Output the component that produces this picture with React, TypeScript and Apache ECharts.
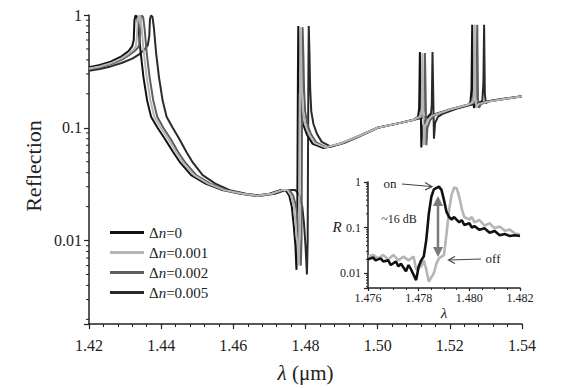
import React, { useEffect, useRef } from 'react';
import * as echarts from 'echarts';

const FONT = '"Liberation Serif", "Times New Roman", serif';
const INK = '#222222';

// ---- legend / series meta ----
const seriesNames = ['Δn=0', 'Δn=0.001', 'Δn=0.002', 'Δn=0.005'];
const seriesColors = ['#111111', '#b5b5b5', '#5e5e5e', '#2a2a2a'];
const seriesZ = [3, 5, 4, 2];

// ---- main chart data: [wavelength (um), reflection] ----
const dn0: number[][] = [
  [1.4200, 0.345], [1.4230, 0.36], [1.4260, 0.385], [1.4290, 0.43], [1.4310, 0.48], [1.4320, 0.53],
  [1.4324, 0.6], [1.4326, 0.9], [1.4329, 0.99], [1.4333, 0.97], [1.4337, 0.78], [1.4343, 0.47],
  [1.4351, 0.28], [1.4361, 0.175], [1.4372, 0.125], [1.4390, 0.1], [1.4410, 0.08], [1.4433, 0.061],
  [1.4453, 0.049], [1.4483, 0.038], [1.4523, 0.032], [1.4570, 0.028], [1.4620, 0.026], [1.4660, 0.025],
  [1.4700, 0.026], [1.4730, 0.028], [1.4745, 0.028], [1.4755, 0.025], [1.4762, 0.02], [1.4767, 0.014],
  [1.4772, 0.009], [1.4775, 0.0055], [1.4777, 0.01], [1.4778, 0.06], [1.4779, 0.3], [1.4780, 0.8],
  [1.4782, 0.45], [1.4784, 0.22], [1.4787, 0.14], [1.4793, 0.108], [1.4804, 0.087], [1.4820, 0.072],
  [1.4850, 0.066], [1.4900, 0.073], [1.4950, 0.085], [1.5000, 0.1], [1.5060, 0.11], [1.5100, 0.118],
  [1.5112, 0.125], [1.5115, 0.15], [1.5117, 0.47], [1.5119, 0.2], [1.5121, 0.067], [1.5124, 0.1],
  [1.5132, 0.118], [1.5145, 0.128], [1.5200, 0.145], [1.5250, 0.16], [1.5257, 0.168], [1.5260, 0.22],
  [1.5262, 0.82], [1.5264, 0.18], [1.5267, 0.15], [1.5272, 0.162], [1.5290, 0.168], [1.5350, 0.18],
  [1.5400, 0.19],
];

const dn1: number[][] = [
  [1.4200, 0.335], [1.4230, 0.35], [1.4260, 0.373], [1.4290, 0.413], [1.4310, 0.455], [1.4325, 0.5],
  [1.4330, 0.53], [1.4333, 0.65], [1.4335, 0.92], [1.4338, 0.99], [1.4342, 0.96], [1.4346, 0.76],
  [1.4352, 0.46], [1.4360, 0.28], [1.4370, 0.175], [1.4381, 0.125], [1.4399, 0.1], [1.4419, 0.08],
  [1.4441, 0.061], [1.4461, 0.049], [1.4491, 0.038], [1.4530, 0.032], [1.4575, 0.028], [1.4625, 0.026],
  [1.4665, 0.025], [1.4705, 0.026], [1.4735, 0.028], [1.4750, 0.028], [1.4760, 0.025], [1.4768, 0.02],
  [1.4773, 0.014], [1.4778, 0.009], [1.4781, 0.006], [1.4783, 0.01], [1.4784, 0.06], [1.4785, 0.3],
  [1.4786, 0.78], [1.4788, 0.45], [1.4790, 0.22], [1.4793, 0.14], [1.4799, 0.108], [1.4810, 0.087],
  [1.4826, 0.073], [1.4855, 0.067], [1.4900, 0.073], [1.4950, 0.085], [1.5000, 0.1], [1.5060, 0.11],
  [1.5100, 0.118], [1.5119, 0.126], [1.5122, 0.15], [1.5124, 0.46], [1.5126, 0.2], [1.5128, 0.07],
  [1.5131, 0.1], [1.5139, 0.118], [1.5150, 0.128], [1.5200, 0.145], [1.5250, 0.16], [1.5264, 0.168],
  [1.5267, 0.22], [1.5269, 0.82], [1.5271, 0.18], [1.5274, 0.15], [1.5279, 0.162], [1.5295, 0.168],
  [1.5350, 0.18], [1.5400, 0.19],
];

const dn2: number[][] = [
  [1.4200, 0.33], [1.4230, 0.343], [1.4260, 0.365], [1.4290, 0.4], [1.4310, 0.438], [1.4325, 0.475],
  [1.4335, 0.51], [1.4339, 0.54], [1.4341, 0.65], [1.4343, 0.92], [1.4346, 0.99], [1.4350, 0.96],
  [1.4354, 0.76], [1.4360, 0.46], [1.4368, 0.28], [1.4378, 0.175], [1.4389, 0.125], [1.4406, 0.1],
  [1.4426, 0.08], [1.4447, 0.061], [1.4467, 0.049], [1.4497, 0.038], [1.4536, 0.032], [1.4580, 0.028],
  [1.4628, 0.026], [1.4668, 0.025], [1.4708, 0.026], [1.4738, 0.028], [1.4756, 0.028], [1.4766, 0.025],
  [1.4774, 0.02], [1.4779, 0.014], [1.4784, 0.009], [1.4787, 0.006], [1.4789, 0.01], [1.4790, 0.06],
  [1.4791, 0.3], [1.4792, 0.78], [1.4794, 0.45], [1.4796, 0.22], [1.4799, 0.14], [1.4805, 0.108],
  [1.4815, 0.088], [1.4830, 0.074], [1.4858, 0.067], [1.4900, 0.072], [1.4950, 0.085], [1.5000, 0.1],
  [1.5060, 0.11], [1.5100, 0.118], [1.5126, 0.126], [1.5129, 0.15], [1.5131, 0.46], [1.5133, 0.2],
  [1.5135, 0.07], [1.5138, 0.1], [1.5146, 0.118], [1.5157, 0.128], [1.5200, 0.145], [1.5250, 0.16],
  [1.5271, 0.168], [1.5274, 0.22], [1.5276, 0.82], [1.5278, 0.18], [1.5281, 0.15], [1.5286, 0.162],
  [1.5302, 0.17], [1.5350, 0.18], [1.5400, 0.19],
];

const dn5: number[][] = [
  [1.4200, 0.32], [1.4230, 0.332], [1.4260, 0.35], [1.4290, 0.375], [1.4320, 0.41], [1.4340, 0.45],
  [1.4355, 0.5], [1.4363, 0.54], [1.4367, 0.65], [1.4369, 0.92], [1.4372, 0.99], [1.4376, 0.96],
  [1.4380, 0.76], [1.4386, 0.46], [1.4394, 0.28], [1.4404, 0.175], [1.4415, 0.125], [1.4432, 0.1],
  [1.4450, 0.08], [1.4470, 0.061], [1.4488, 0.049], [1.4515, 0.038], [1.4550, 0.032], [1.4590, 0.028],
  [1.4635, 0.026], [1.4675, 0.025], [1.4715, 0.026], [1.4745, 0.028], [1.4772, 0.028], [1.4784, 0.025],
  [1.4791, 0.02], [1.4796, 0.014], [1.4800, 0.009], [1.4804, 0.005], [1.4806, 0.01], [1.4807, 0.06],
  [1.4808, 0.3], [1.4809, 0.8], [1.4811, 0.45], [1.4813, 0.22], [1.4816, 0.14], [1.4822, 0.108],
  [1.4832, 0.088], [1.4845, 0.075], [1.4870, 0.068], [1.4910, 0.074], [1.4950, 0.084], [1.5000, 0.1],
  [1.5060, 0.11], [1.5100, 0.118], [1.5140, 0.126], [1.5148, 0.135], [1.5150, 0.16], [1.5152, 0.47],
  [1.5154, 0.2], [1.5156, 0.08], [1.5159, 0.11], [1.5167, 0.125], [1.5180, 0.133], [1.5220, 0.148],
  [1.5270, 0.163], [1.5290, 0.172], [1.5293, 0.25], [1.5295, 0.82], [1.5297, 0.2], [1.5300, 0.165],
  [1.5306, 0.172], [1.5330, 0.177], [1.5370, 0.185], [1.5400, 0.19],
];

// ---- inset data ----
const insetOn: number[][] = [
  [1.4760, 0.020], [1.4762, 0.022], [1.4763, 0.019], [1.4765, 0.021], [1.4766, 0.018], [1.4768, 0.019],
  [1.4769, 0.015], [1.4771, 0.018], [1.4772, 0.014], [1.4773, 0.016], [1.4775, 0.011], [1.4776, 0.015],
  [1.4777, 0.012], [1.4779, 0.007], [1.4780, 0.014], [1.4781, 0.019], [1.4782, 0.023], [1.4783, 0.053],
  [1.4784, 0.2], [1.4785, 0.47], [1.4786, 0.69], [1.4788, 0.79], [1.4789, 0.67], [1.4790, 0.40],
  [1.4791, 0.22], [1.4792, 0.17], [1.4793, 0.15], [1.4794, 0.17], [1.4796, 0.13], [1.4797, 0.145],
  [1.4798, 0.114], [1.4800, 0.124], [1.4801, 0.1], [1.4802, 0.108], [1.4804, 0.089], [1.4806, 0.096],
  [1.4808, 0.077], [1.4810, 0.084], [1.4812, 0.068], [1.4814, 0.072], [1.4816, 0.065], [1.4818, 0.068],
  [1.4820, 0.065],
];

const insetOff: number[][] = [
  [1.4760, 0.023], [1.4762, 0.025], [1.4764, 0.021], [1.4766, 0.025], [1.4768, 0.020], [1.4770, 0.025],
  [1.4772, 0.019], [1.4774, 0.023], [1.4776, 0.019], [1.4778, 0.023], [1.4779, 0.012], [1.4781, 0.014],
  [1.4782, 0.019], [1.4783, 0.012], [1.4784, 0.0065], [1.4786, 0.01], [1.4787, 0.016], [1.4788, 0.021],
  [1.4790, 0.025], [1.4791, 0.074], [1.4792, 0.24], [1.4793, 0.52], [1.4794, 0.76], [1.4795, 0.73],
  [1.4796, 0.48], [1.4797, 0.26], [1.4798, 0.17], [1.4800, 0.15], [1.4801, 0.17], [1.4802, 0.13],
  [1.4804, 0.146], [1.4806, 0.11], [1.4808, 0.124], [1.4810, 0.096], [1.4812, 0.105], [1.4814, 0.085],
  [1.4816, 0.09], [1.4818, 0.074], [1.4820, 0.07],
];

// ---- axis ticks ----
const mainYMinor = [
  0.002, 0.003, 0.004, 0.005, 0.006, 0.007, 0.008, 0.009,
  0.02, 0.03, 0.04, 0.05, 0.06, 0.07, 0.08, 0.09,
  0.2, 0.3, 0.4, 0.5, 0.6, 0.7, 0.8, 0.9,
];
const insetYMinor = [
  0.005, 0.006, 0.007, 0.008, 0.009,
  0.02, 0.03, 0.04, 0.05, 0.06, 0.07, 0.08, 0.09,
  0.2, 0.3, 0.4, 0.5, 0.6, 0.7, 0.8, 0.9,
];

const logLabel = (v: number) => {
  const l = Math.log10(v);
  const r = Math.round(l);
  return Math.abs(l - r) < 1e-6 ? String(Math.pow(10, r)) : '';
};

function minorTickSeries(values: number[], xVal: number, idx: number, len: number) {
  return {
    type: 'custom',
    xAxisIndex: idx,
    yAxisIndex: idx,
    silent: true,
    clip: false,
    z: 10,
    data: values.map((v) => [xVal, v]),
    renderItem: (_p: any, api: any) => {
      const pt = api.coord([api.value(0), api.value(1)]);
      return {
        type: 'line',
        shape: { x1: pt[0] - len, y1: pt[1], x2: pt[0], y2: pt[1] },
        style: { stroke: INK, lineWidth: 1 },
      };
    },
  };
}

export default function App() {
  const ref = useRef<HTMLDivElement>(null);

  useEffect(() => {
    if (!ref.current) return;
    const chart = echarts.init(ref.current, null, { renderer: 'svg' });
    const mainData = [dn0, dn1, dn2, dn5];
    const axisLine = { onZero: false, lineStyle: { color: INK, width: 1.5 } };
    const tickStyle = { color: INK, width: 1.2 };

    const option: any = {
      animation: false,
      backgroundColor: '#ffffff',
      grid: [
        { left: 89, top: 15, width: 433, height: 315 },
        { left: 368, top: 182, width: 152, height: 106 },
      ],
      legend: {
        data: seriesNames,
        orient: 'vertical',
        left: 110,
        top: 225,
        padding: 0,
        icon: 'rect',
        itemWidth: 34,
        itemHeight: 3,
        itemGap: 5,
        textStyle: {
          fontFamily: FONT,
          fontSize: 15,
          color: INK,
          lineHeight: 15,
          rich: { i: { fontStyle: 'italic', fontFamily: FONT, fontSize: 15, color: INK, lineHeight: 15 } },
        },
        formatter: (name: string) => 'Δ{i|n}' + name.slice(2),
      },
      xAxis: [
        {
          type: 'value',
          gridIndex: 0,
          min: 1.42,
          max: 1.54,
          interval: 0.02,
          axisLine,
          axisTick: { length: 5, lineStyle: tickStyle },
          minorTick: { show: true, splitNumber: 5, length: 3, lineStyle: { color: INK, width: 1 } },
          splitLine: { show: false },
          axisLabel: {
            formatter: (v: number) => v.toFixed(2),
            fontFamily: FONT,
            fontSize: 16,
            color: INK,
            margin: 13,
          },
          name: '{i|λ} (μm)',
          nameLocation: 'middle',
          nameGap: 38,
          nameTextStyle: {
            fontFamily: FONT,
            fontSize: 21,
            color: INK,
            rich: { i: { fontStyle: 'italic', fontFamily: FONT, fontSize: 21, color: INK } },
          },
        },
        {
          type: 'value',
          gridIndex: 1,
          min: 1.476,
          max: 1.482,
          interval: 0.002,
          axisLine,
          axisTick: { length: 3, lineStyle: tickStyle },
          minorTick: { show: true, splitNumber: 4, length: 2, lineStyle: { color: INK, width: 1 } },
          splitLine: { show: false },
          axisLabel: {
            formatter: (v: number) => v.toFixed(3),
            fontFamily: FONT,
            fontSize: 12,
            color: INK,
            margin: 4,
          },
          name: 'λ',
          nameLocation: 'middle',
          nameGap: 17,
          nameTextStyle: { fontFamily: FONT, fontSize: 15, fontStyle: 'italic', color: INK },
        },
      ],
      yAxis: [
        {
          type: 'log',
          logBase: 10,
          gridIndex: 0,
          min: 0.00182,
          max: 1,
          axisLine,
          axisTick: { length: 5, lineStyle: tickStyle },
          splitLine: { show: false },
          axisLabel: { formatter: logLabel, fontFamily: FONT, fontSize: 16, color: INK, margin: 7 },
        },
        {
          type: 'log',
          logBase: 10,
          gridIndex: 1,
          min: 0.0047,
          max: 1,
          axisLine,
          axisTick: { length: 4, lineStyle: tickStyle },
          splitLine: { show: false },
          axisLabel: { formatter: logLabel, fontFamily: FONT, fontSize: 12, color: INK, margin: 7 },
        },
      ],
      graphic: [
        {
          type: 'text',
          x: 33,
          y: 166,
          rotation: Math.PI / 2,
          style: { text: 'Reflection', font: `22px ${FONT}`, fill: INK, align: 'center', verticalAlign: 'middle' },
        },
        {
          type: 'text',
          x: 337,
          y: 227,
          style: { text: 'R', font: `italic 15px ${FONT}`, fill: INK, align: 'center', verticalAlign: 'middle' },
        },
        {
          type: 'text',
          x: 390,
          y: 183,
          style: { text: 'on', font: `13px ${FONT}`, fill: INK, align: 'center', verticalAlign: 'middle' },
        },
        {
          type: 'line',
          shape: { x1: 402, y1: 184, x2: 431, y2: 186.5 },
          style: { stroke: '#444', lineWidth: 1.2 },
        },
        {
          type: 'polyline',
          shape: { points: [[425, 182.5], [432, 186.6], [425, 190]] },
          style: { stroke: '#444', lineWidth: 1.2, fill: 'none' },
        },
        {
          type: 'text',
          x: 399,
          y: 219,
          style: { text: '~16 dB', font: `12px ${FONT}`, fill: INK, align: 'center', verticalAlign: 'middle' },
        },
        {
          type: 'line',
          shape: { x1: 438, y1: 202, x2: 438, y2: 251 },
          style: { stroke: '#7a7a7a', lineWidth: 2.5 },
        },
        {
          type: 'polygon',
          shape: { points: [[433, 206], [438, 196], [443, 206]] },
          style: { fill: '#7a7a7a' },
        },
        {
          type: 'polygon',
          shape: { points: [[433, 247], [438, 257], [443, 247]] },
          style: { fill: '#7a7a7a' },
        },
        {
          type: 'text',
          x: 493,
          y: 258,
          style: { text: 'off', font: `13px ${FONT}`, fill: INK, align: 'center', verticalAlign: 'middle' },
        },
        {
          type: 'line',
          shape: { x1: 481, y1: 259, x2: 449, y2: 260 },
          style: { stroke: '#444', lineWidth: 1.2 },
        },
        {
          type: 'polyline',
          shape: { points: [[455, 256.5], [448.5, 260], [455, 263.5]] },
          style: { stroke: '#444', lineWidth: 1.2, fill: 'none' },
        },
      ],
      series: [
        ...seriesNames.map((name, i) => ({
          type: 'line',
          name,
          xAxisIndex: 0,
          yAxisIndex: 0,
          data: mainData[i],
          symbol: 'none',
          showSymbol: false,
          z: seriesZ[i],
          lineStyle: { color: seriesColors[i], width: 2 },
          itemStyle: { color: seriesColors[i] },
        })),
        {
          type: 'line',
          name: 'inset-off',
          xAxisIndex: 1,
          yAxisIndex: 1,
          data: insetOff,
          symbol: 'none',
          showSymbol: false,
          z: 3,
          lineStyle: { color: '#b5b5b5', width: 2.6 },
        },
        {
          type: 'line',
          name: 'inset-on',
          xAxisIndex: 1,
          yAxisIndex: 1,
          data: insetOn,
          symbol: 'none',
          showSymbol: false,
          z: 4,
          lineStyle: { color: '#111111', width: 2.6 },
        },
        minorTickSeries(mainYMinor, 1.42, 0, 3),
        minorTickSeries(insetYMinor, 1.476, 1, 2),
      ],
    };

    chart.setOption(option);
    return () => chart.dispose();
  }, []);

  return (
    <div
      ref={ref}
      style={{ position: 'fixed', left: 0, top: 0, width: 584, height: 388, background: '#fff' }}
    />
  );
}
